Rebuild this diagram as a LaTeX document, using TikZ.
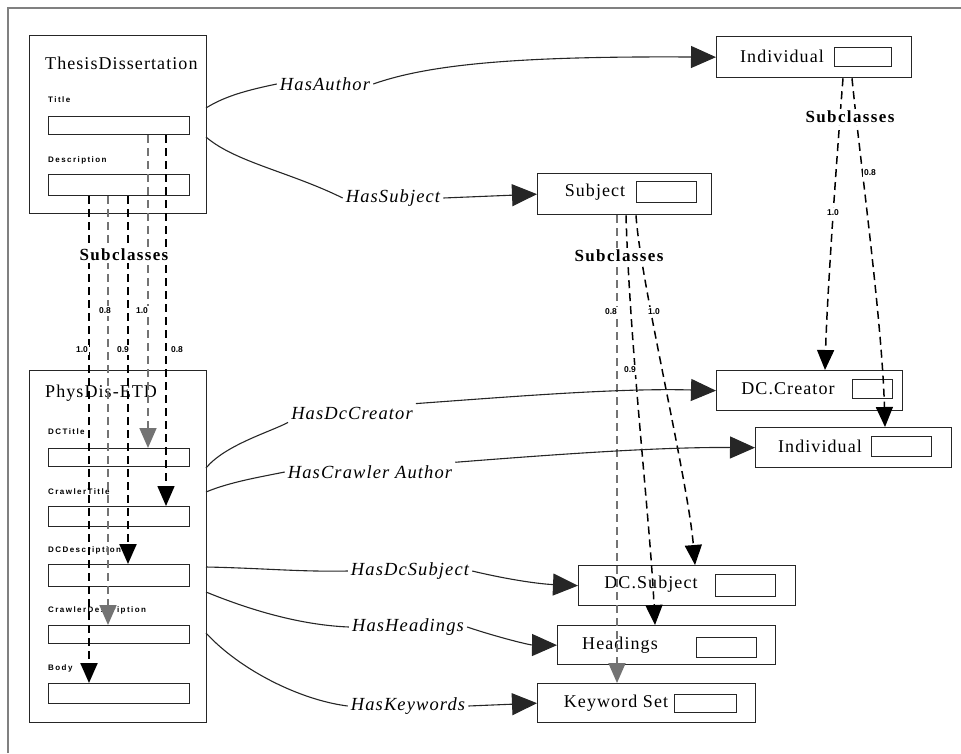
\documentclass[tikz,border=0pt]{standalone}
\usepackage{fontspec}
\setmainfont{Liberation Serif}
\newfontfamily\tinyfont[LetterSpace=18]{Liberation Sans}
\newfontfamily\numfont{Liberation Sans}
\usetikzlibrary{arrows.meta}
\tikzset{
  box/.style={draw=black!85, line width=1.3pt, inner sep=0pt, anchor=north west},
  field/.style={draw=black!85, line width=1.2pt, inner sep=0pt, anchor=north west},
  boxtext/.style={font=\fontsize{18}{20}\selectfont\addfontfeatures{LetterSpace=6}, inner sep=0pt},
  fieldlab/.style={font=\tinyfont\fontsize{8}{9}\selectfont\bfseries, inner sep=0pt, anchor=west},
  sublab/.style={font=\fontsize{17}{19}\selectfont\bfseries\addfontfeatures{LetterSpace=8}, fill=white, inner sep=2pt},
  numlab/.style={font=\numfont\fontsize{8.5}{9}\selectfont\bfseries, fill=white, inner sep=1.5pt},
  rellab/.style={font=\fontsize{18.5}{20}\selectfont\itshape\addfontfeatures{LetterSpace=6}, inner sep=3pt},
  rel/.style={line width=1.1pt, black!85},
  reltip/.style={-{Triangle[length=25pt,width=22pt]}},
  subthick/.style={line width=2.2pt, dash pattern=on 8pt off 5pt, -{Triangle[length=20pt,width=17pt]}},
  submid/.style={line width=1.5pt, dash pattern=on 8pt off 5pt, -{Triangle[length=20pt,width=17pt]}},
  subgray/.style={line width=1.7pt, black!55, dash pattern=on 8pt off 5pt, -{Triangle[length=20pt,width=17pt]}},
  frame/.style={draw=black!50, line width=2pt}
}
\begin{document}
\begin{tikzpicture}[x=1pt,y=-1pt]
\useasboundingbox (0,0) rectangle (961,753);
\draw[frame] (8,753) -- (8,8) -- (961,8);

% ---------- left boxes ----------
\node[box, minimum width=177pt, minimum height=178pt] (td) at (29,35) {};
\node[boxtext, anchor=west] (tdname) at (45,63) {ThesisDissertation};
\node[fieldlab] (tdtitlelab) at (48,100) {Title};
\node[field, minimum width=141pt, minimum height=18pt] (tdtitle) at (48,116) {};
\node[fieldlab] (tddesclab) at (48,160) {Description};
\node[field, minimum width=141pt, minimum height=21pt] (tddesc) at (48,174) {};

\node[box, minimum width=177pt, minimum height=352pt] (pd) at (29,370) {};
\node[boxtext, anchor=west] (pdname) at (45,393) {PhysDis-ETD};
\node[fieldlab] (pddctitlelab) at (48,432) {DCTitle};
\node[field, minimum width=141pt, minimum height=18pt] (pddctitle) at (48,448) {};
\node[fieldlab] (pdcrtitlelab) at (48,492) {CrawlerTitle};
\node[field, minimum width=141pt, minimum height=20pt] (pdcrtitle) at (48,506) {};
\node[fieldlab] (pddcdesclab) at (48,550) {DCDescription};
\node[field, minimum width=141pt, minimum height=22pt] (pddcdesc) at (48,564) {};
\node[fieldlab] (pdcrdesclab) at (48,610) {CrawlerDescription};
\node[field, minimum width=141pt, minimum height=18pt] (pdcrdesc) at (48,625) {};
\node[fieldlab] (pdbodylab) at (48,668) {Body};
\node[field, minimum width=141pt, minimum height=20pt] (pdbody) at (48,683) {};

% ---------- right boxes ----------
\node[box, minimum width=195pt, minimum height=41pt] (ind1) at (716,36) {};
\node[boxtext] (ind1t) at (782,56) {Individual};
\node[field, minimum width=57pt, minimum height=19pt] (ind1f) at (834,47) {};

\node[box, minimum width=186pt, minimum height=40pt] (dccr) at (716,370) {};
\node[boxtext] (dccrt) at (788,389) {DC.Creator};
\node[field, minimum width=40pt, minimum height=19pt] (dccrf) at (852,379) {};

\node[box, minimum width=196pt, minimum height=40pt] (ind2) at (755,427) {};
\node[boxtext] (ind2t) at (820,446) {Individual};
\node[field, minimum width=60pt, minimum height=20pt] (ind2f) at (871,436) {};

\node[box, minimum width=174pt, minimum height=41pt] (subj) at (537,173) {};
\node[boxtext] (subjt) at (595,192) {Subject};
\node[field, minimum width=60pt, minimum height=21pt] (subjf) at (636,181) {};

\node[box, minimum width=217pt, minimum height=40pt] (dcsubj) at (578,565) {};
\node[boxtext] (dcsubjt) at (651,584) {DC.Subject};
\node[field, minimum width=60pt, minimum height=22pt] (dcsubjf) at (715,574) {};

\node[box, minimum width=218pt, minimum height=39pt] (head) at (557,625) {};
\node[boxtext] (headt) at (620,645) {Headings};
\node[field, minimum width=60pt, minimum height=20pt] (headf) at (696,637) {};

\node[box, minimum width=218pt, minimum height=39pt] (kw) at (537,683) {};
\node[boxtext] (kwt) at (616,703) {Keyword Set};
\node[field, minimum width=62pt, minimum height=18pt] (kwf) at (674,694) {};

% ---------- column coordinates ----------
\coordinate (c1) at (89,0);
\coordinate (c2) at (108,0);
\coordinate (c3) at (128,0);
\coordinate (c4) at (148,0);
\coordinate (c5) at (166,0);
\coordinate (s1) at (617,0);
\coordinate (s2) at (626,0);
\coordinate (s2e) at (655,0);
\coordinate (s3) at (636,0);
\coordinate (s3e) at (695,0);
\coordinate (i1) at (843,0);
\coordinate (i1e) at (825,0);
\coordinate (i2) at (852,0);
\coordinate (i2e) at (885,0);

% ---------- subclass lines (left) ----------
\draw[subthick] (tddesc.south -| c1) -- (pdbody.north -| c1);
\draw[subgray]  (tddesc.south -| c2) -- (pdcrdesc.north -| c2);
\draw[subthick] (tddesc.south -| c3) -- (pddcdesc.north -| c3);
\draw[subgray]  (tdtitle.south -| c4) -- (pddctitle.north -| c4);
\draw[submid]   (tdtitle.south -| c5) -- (pdcrtitle.north -| c5);
\node[sublab] (sl1) at (124,255) {Subclasses};
\node[numlab] (n1) at (105,311) {0.8};
\node[numlab] (n2) at (142,311) {1.0};
\node[numlab] (n3) at (82,350) {1.0};
\node[numlab] (n4) at (123,350) {0.9};
\node[numlab] (n5) at (177,350) {0.8};

% ---------- subclass lines (subject) ----------
\draw[subgray] (subj.south -| s1) -- (kw.north -| s1);
\draw[submid] (subj.south -| s2) .. controls (630,350) and (650,520) .. (head.north -| s2e);
\draw[submid] (subj.south -| s3) .. controls (640,280) and (688,480) .. (dcsubj.north -| s3e);
\node[sublab] (sl2) at (619,256) {Subclasses};
\node[numlab] (n6) at (611,312) {0.8};
\node[numlab] (n7) at (654,312) {1.0};
\node[numlab] (n8) at (630,370) {0.9};

% ---------- subclass lines (individual) ----------
\draw[submid] (ind1.south -| i1) .. controls (835,180) and (827,300) .. (dccr.north -| i1e);
\draw[submid] (ind1.south -| i2) .. controls (860,160) and (882,320) .. (ind2.north -| i2e);
\node[sublab] (sl3) at (850,117) {Subclasses};
\node[numlab] (n9) at (833,213) {1.0};
\node[numlab] (n10) at (870,173) {0.8};

% ---------- relations ----------
\coordinate (a1) at (206,108);
\coordinate (a2) at (206,137);
\coordinate (a3) at (206,468);
\coordinate (a4) at (206,492);
\coordinate (a5) at (206,567);
\coordinate (a6) at (206,592);
\coordinate (a7) at (206,633);

\node[rellab] (lAuthor) at (325,84) {HasAuthor};
\node[rellab] (lSubject) at (393,198) {HasSubject};
\node[rellab] (lDcCreator) at (352,413) {HasDcCreator};
\node[rellab] (lCrawler) at (370,472) {HasCrawler Author};
\node[rellab] (lDcSubject) at (410,571) {HasDcSubject};
\node[rellab] (lHeadings) at (408,627) {HasHeadings};
\node[rellab] (lKeywords) at (408,706) {HasKeywords};

\draw[rel] (a1) .. controls (225,96) and (248,90) .. (lAuthor.west);
\draw[rel, reltip] (lAuthor.east) .. controls (430,64) and (520,56) .. (ind1.west);

\draw[rel] (a2) .. controls (235,162) and (290,172) .. (lSubject.west);
\draw[rel, reltip] (lSubject.east) -- (subj.west);

\draw[rel] (a3) .. controls (225,445) and (270,432) .. (lDcCreator.south west);
\draw[rel, reltip] (lDcCreator.north east) .. controls (520,396) and (620,388) .. (dccr.west);

\draw[rel] (a4) .. controls (230,482) and (260,477) .. (lCrawler.west);
\draw[rel, reltip] (lCrawler.north east) .. controls (560,454) and (660,447) .. (ind2.west);

\draw[rel] (a5) .. controls (260,568) and (300,572) .. (lDcSubject.west);
\draw[rel, reltip] (lDcSubject.east) .. controls (510,580) and (540,584) .. (dcsubj.west);

\draw[rel] (a6) .. controls (250,610) and (300,625) .. (lHeadings.west);
\draw[rel, reltip] (lHeadings.east) .. controls (500,638) and (530,645) .. (head.west);

\draw[rel] (a7) .. controls (240,670) and (300,700) .. (lKeywords.west);
\draw[rel, reltip] (lKeywords.east) -- (kw.west);
\end{tikzpicture}
\end{document}
